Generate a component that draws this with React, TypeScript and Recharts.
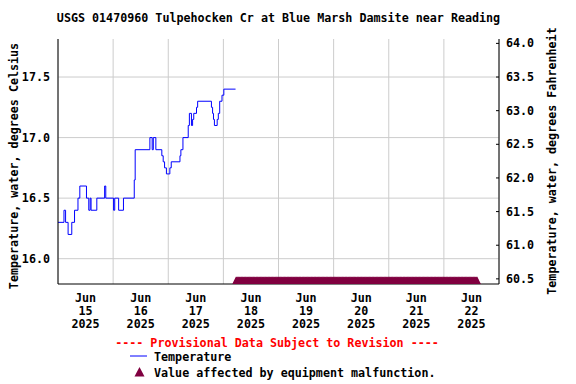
import React from 'react';
import { ComposedChart, Line, Scatter, XAxis, YAxis, CartesianGrid, ReferenceArea } from 'recharts';

const title = 'USGS 01470960 Tulpehocken Cr at Blue Marsh Damsite near Reading';
const leftAxisTitle = 'Temperature, water, degrees Celsius';
const rightAxisTitle = 'Temperature, water, degrees Fahrenheit';
const provisionalText = '---- Provisional Data Subject to Revision ----';
const seriesName = 'Temperature';
const malfunctionName = 'Value affected by equipment malfunction.';

// x-axis: hours since 2025-06-15 00:00
const dayStartHours = [0, 24, 48, 72, 96, 120, 144, 168, 192];
const dayNoonHours = [12, 36, 60, 84, 108, 132, 156, 180];
const dayMonths = ['Jun', 'Jun', 'Jun', 'Jun', 'Jun', 'Jun', 'Jun', 'Jun'];
const dayNumbers = ['15', '16', '17', '18', '19', '20', '21', '22'];
const dayYears = ['2025', '2025', '2025', '2025', '2025', '2025', '2025', '2025'];

// temperature readings (hour since Jun 15 00:00, degrees C)
const tempHours = [
  0, 2.6, 3.3, 4.4, 6.0, 7.2, 8.7, 9.5, 12.4, 13.4, 14.0, 14.4, 16.9, 20.3, 20.8,
  24.2, 24.7, 26.4, 28.5, 33.2, 33.6, 40.0, 41.0, 41.5, 42.6, 45.2, 45.8, 46.4, 47.2,
  48.7, 49.3, 53.1, 53.5, 54.4, 56.7, 57.2, 58.1, 58.6, 59.1, 60.3, 60.8, 66.8, 67.3,
  67.7, 68.1, 69.3, 69.8, 70.4, 71.4, 72.2, 77.3,
];
const tempValues = [
  16.3, 16.4, 16.3, 16.2, 16.3, 16.4, 16.5, 16.6, 16.5, 16.4, 16.5, 16.4, 16.5, 16.6, 16.5,
  16.4, 16.5, 16.4, 16.5, 16.65, 16.9, 17.0, 16.9, 17.0, 16.9, 16.85, 16.8, 16.75, 16.7,
  16.75, 16.8, 16.85, 16.9, 17.0, 17.1, 17.2, 17.1, 17.15, 17.2, 17.25, 17.3, 17.25, 17.2,
  17.15, 17.1, 17.15, 17.2, 17.3, 17.35, 17.4, 17.4,
];

// equipment malfunction flags
const malfunctionStartHour = 77.5;
const malfunctionEndHour = 182.5;
const readingIntervalHours = 0.25;
const malfunctionLevel = 15.815;

const celsiusDomain = [15.791, 17.814];
const celsiusTicks = [16.0, 16.5, 17.0, 17.5];
const fahrenheitTicks = [60.5, 61.0, 61.5, 62.0, 62.5, 63.0, 63.5, 64.0];

const cToF = (c: number) => c * 1.8 + 32;

const tempData = tempHours.map((h, i) => ({ h, v: tempValues[i] }));
const malfunctionData: { h: number; v: number }[] = [];
for (let h = malfunctionStartHour; h <= malfunctionEndHour + 1e-9; h += readingIntervalHours) {
  malfunctionData.push({ h, v: malfunctionLevel });
}

const FONT = '"DejaVu Sans Mono", monospace';
const FS = 11.7;
const MAROON = '#800040';

const TriangleShape = (props: any) => {
  const { cx, cy } = props;
  if (cx == null || cy == null) return null;
  return (
    <polygon
      points={`${cx - 4.5},${cy + 4.5} ${cx + 4.5},${cy + 4.5} ${cx},${cy - 4.5}`}
      fill={MAROON}
      stroke="none"
    />
  );
};

const DayTick = (props: any) => {
  const { x, y, index } = props;
  return (
    <g>
      <text x={x} y={y} textAnchor="middle" fontFamily={FONT} fontWeight="bold" fontSize={FS} fill="#000">
        <tspan x={x} dy={18}>{dayMonths[index]}</tspan>
        <tspan x={x} dy={13}>{dayNumbers[index]}</tspan>
        <tspan x={x} dy={13}>{dayYears[index]}</tspan>
      </text>
    </g>
  );
};

const RightTick = (props: any) => {
  const { x, y, payload } = props;
  return (
    <g>
      <line x1={x - 10} x2={x - 7} y1={y} y2={y} stroke="#000" strokeWidth={1} />
      <text x={x} y={y} dy={4} textAnchor="start" fontFamily={FONT} fontWeight="bold" fontSize={FS} fill="#000">
        {Number(payload.value).toFixed(1)}
      </text>
    </g>
  );
};

const LeftTick = (props: any) => {
  const { x, y, payload } = props;
  return (
    <text x={x} y={y} dy={4} textAnchor="end" fontFamily={FONT} fontWeight="bold" fontSize={FS} fill="#000">
      {Number(payload.value).toFixed(1)}
    </text>
  );
};

export default function App() {
  const W = 576;
  const H = 384;
  return (
    <div style={{ position: 'fixed', left: 0, top: 0, width: W, height: H, background: '#fff' }}>
      <ComposedChart
        width={W}
        height={H}
        margin={{ top: 39, right: 27, bottom: 50, left: 8 }}
        style={{ position: 'absolute', left: 0, top: 0 }}
      >
        <XAxis
          xAxisId="lab"
          dataKey="h"
          type="number"
          domain={[0, 192]}
          ticks={dayNoonHours}
          interval={0}
          height={50}
          tickLine={false}
          tickSize={0}
          tickMargin={0}
          axisLine={{ stroke: '#000', strokeWidth: 1 }}
          tick={<DayTick />}
        />
        <YAxis
          yAxisId="c"
          dataKey="v"
          type="number"
          domain={celsiusDomain}
          allowDataOverflow
          ticks={celsiusTicks}
          width={50}
          tickLine={false}
          tickSize={0}
          tickMargin={8}
          axisLine={{ stroke: '#000', strokeWidth: 1 }}
          tick={<LeftTick />}
        />
        <YAxis
          yAxisId="f"
          orientation="right"
          type="number"
          domain={[cToF(celsiusDomain[0]), cToF(celsiusDomain[1])]}
          allowDataOverflow
          ticks={fahrenheitTicks}
          width={50}
          tickLine={false}
          tickSize={0}
          tickMargin={7}
          axisLine={{ stroke: '#000', strokeWidth: 1 }}
          tick={<RightTick />}
        />
        <CartesianGrid
          xAxisId="lab"
          yAxisId="c"
          verticalValues={dayStartHours}
          horizontalValues={celsiusTicks}
          stroke="#cccccc"
          strokeWidth={1}
        />
        <Scatter
          xAxisId="lab"
          yAxisId="c"
          data={malfunctionData}
          dataKey="v"
          shape={<TriangleShape />}
          isAnimationActive={false}
        />
        <Line
          xAxisId="lab"
          yAxisId="c"
          data={tempData}
          dataKey="v"
          type="stepAfter"
          stroke="#0000ff"
          strokeWidth={1}
          dot={false}
          activeDot={false}
          isAnimationActive={false}
        />
        <ReferenceArea xAxisId="lab" yAxisId="c" fill="none" stroke="#000" strokeWidth={1} ifOverflow="visible" />
      </ComposedChart>
      <svg width={W} height={H} style={{ position: 'absolute', left: 0, top: 0, pointerEvents: 'none' }}>
        <g fontFamily={FONT} fontWeight="bold" fontSize={FS}>
          <text x={278.5} y={22} textAnchor="middle" fill="#000">{title}</text>
          <text x={18} y={166} textAnchor="middle" fill="#000" transform="rotate(-90 18 166)">{leftAxisTitle}</text>
          <text x={556} y={161} textAnchor="middle" fill="#000" transform="rotate(-90 556 161)">{rightAxisTitle}</text>
          <text x={277} y={347} textAnchor="middle" fill="#ff0000">{provisionalText}</text>
          <line x1={130} x2={147} y1={356} y2={356} stroke="#0000ff" strokeWidth={1} />
          <text x={154} y={361} fill="#000">{seriesName}</text>
          <polygon points="134.5,376.5 144.5,376.5 139.5,367" fill={MAROON} />
          <text x={154} y={377} fill="#000">{malfunctionName}</text>
        </g>
      </svg>
    </div>
  );
}
